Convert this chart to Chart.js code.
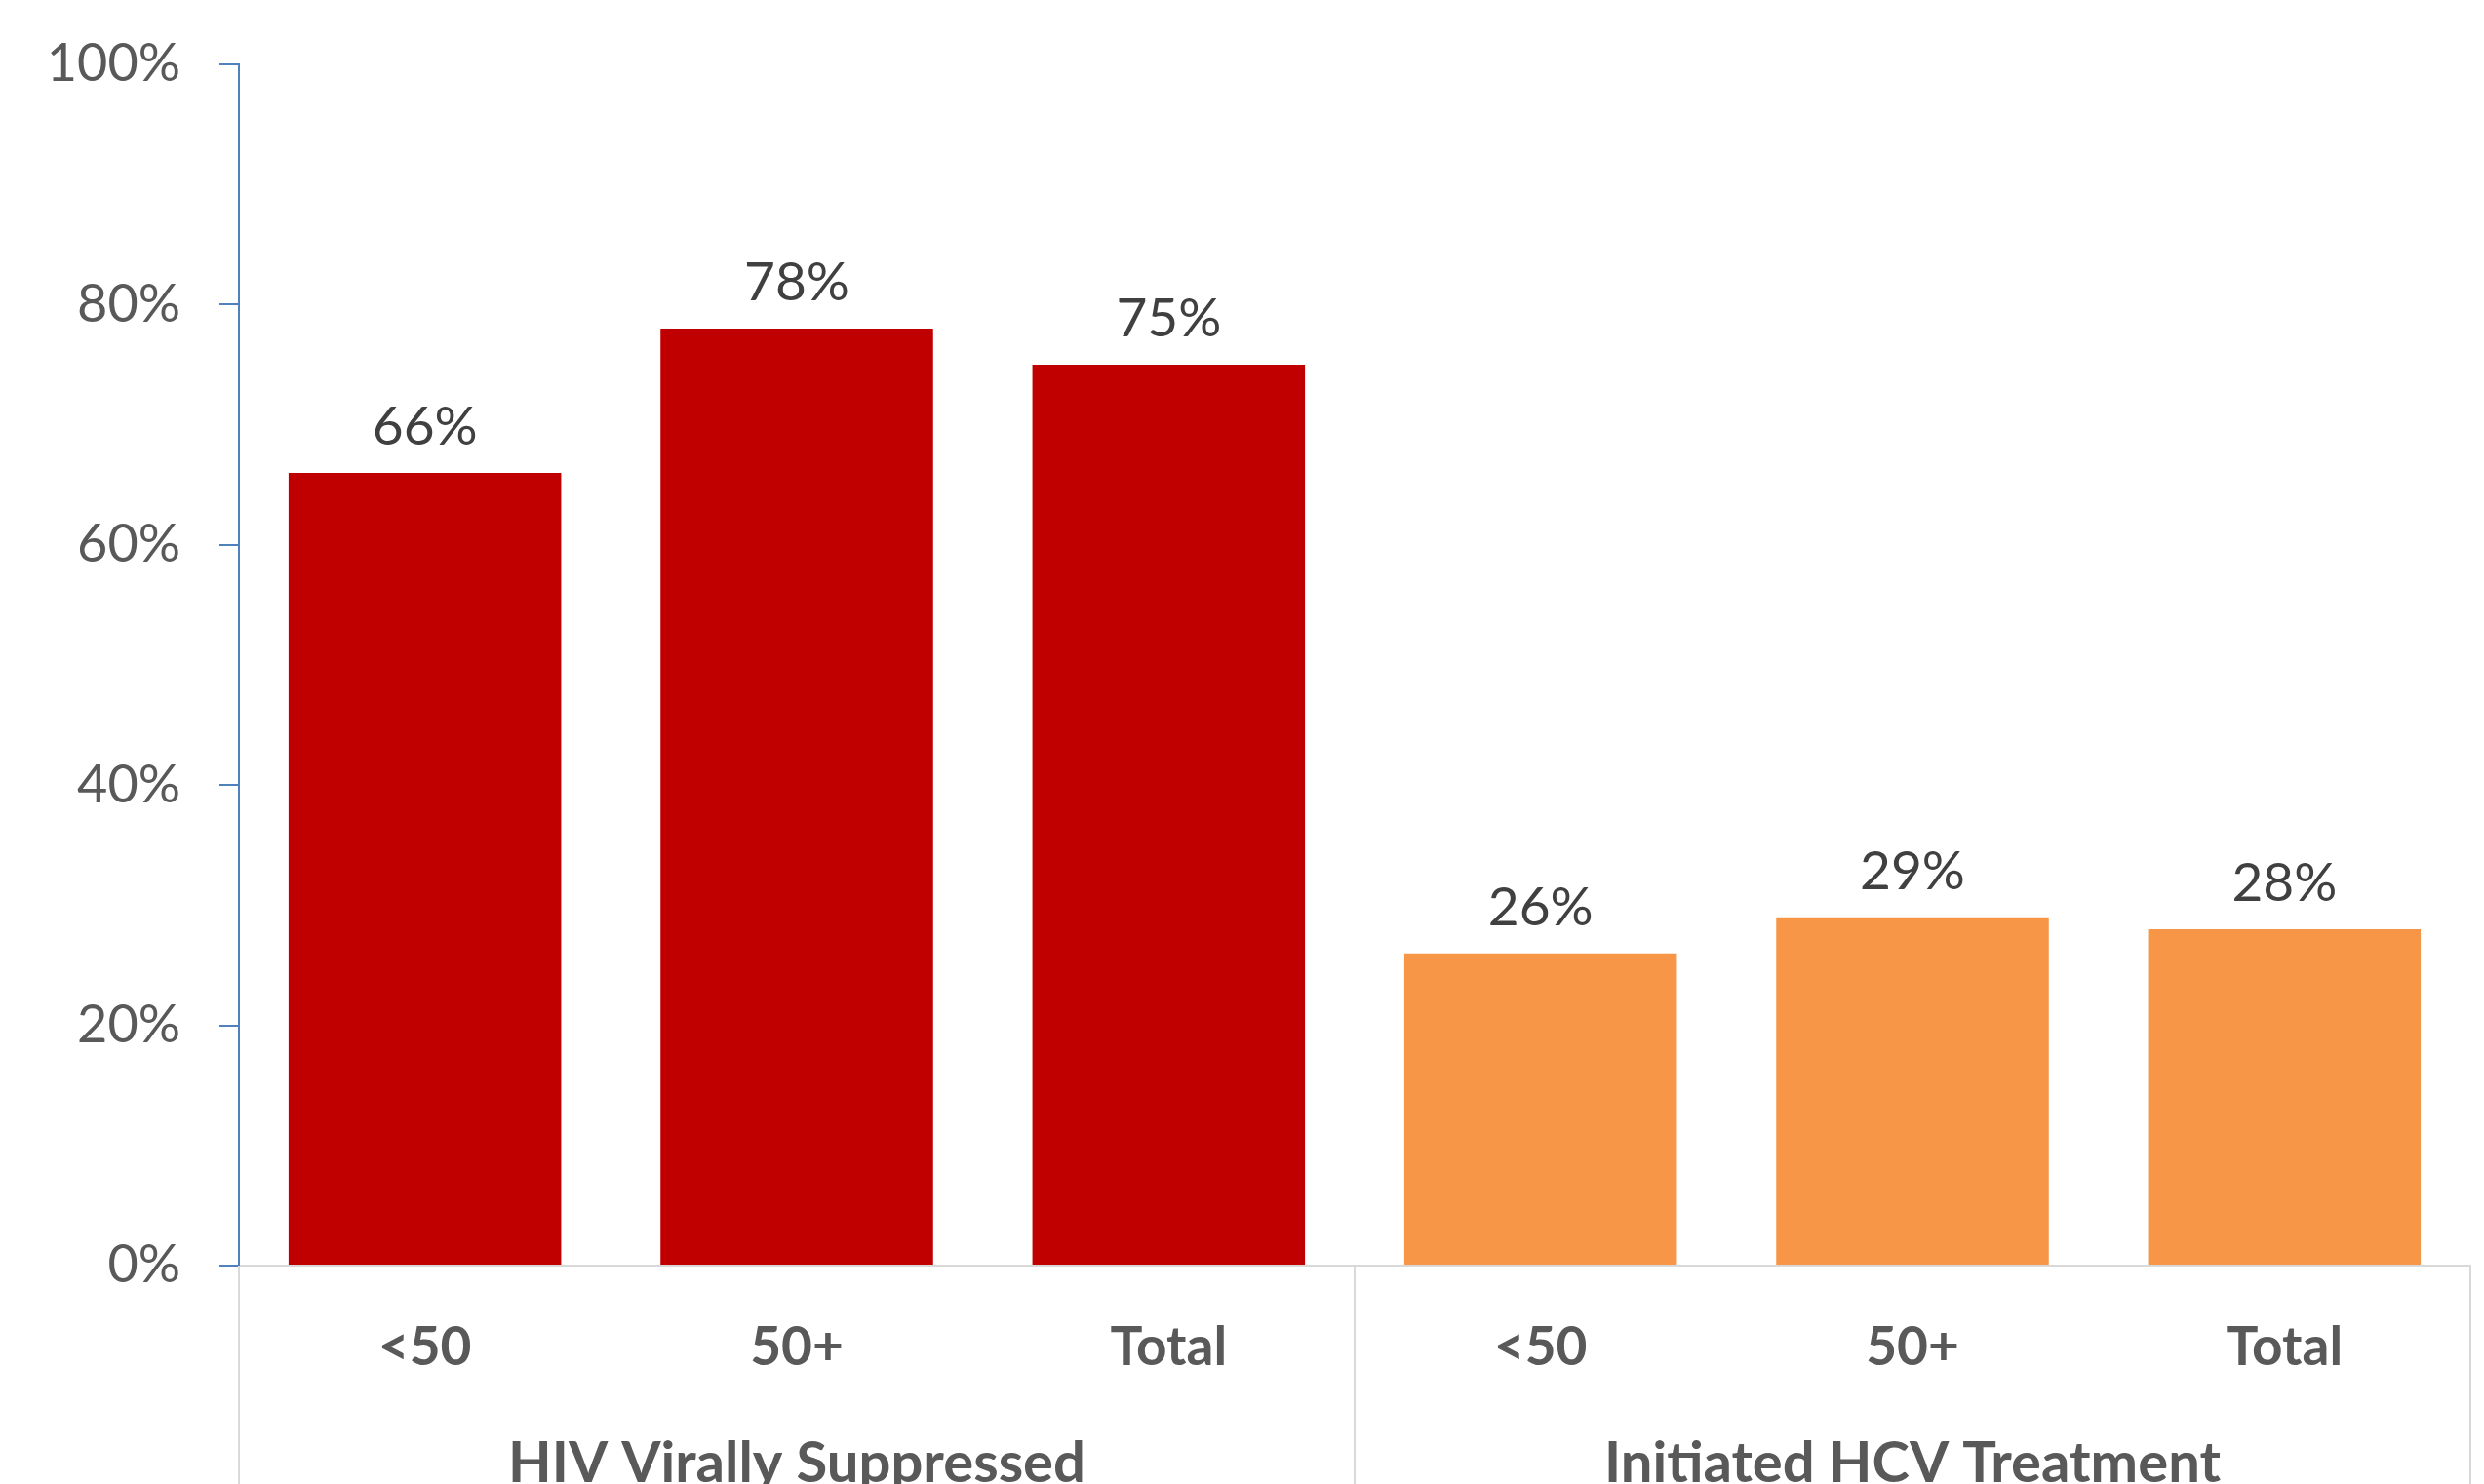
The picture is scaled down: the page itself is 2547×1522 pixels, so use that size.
<!DOCTYPE html>
<html>
<head>
<meta charset="utf-8">
<script src="https://cdn.jsdelivr.net/npm/chart.js@4.4.1/dist/chart.umd.min.js"></script>
<style>
  html, body { margin: 0; padding: 0; background: #ffffff; overflow: hidden; }
  #wrap { width: 2547px; height: 1522px; }
</style>
</head>
<body>
<div id="wrap"><canvas id="chart_hiv" width="2547" height="1522"></canvas></div>
<script>
// values (percent)
const groupNames = ['HIV Virally Suppressed', 'Initiated HCV Treatment'];
const ageLabels = ['<50', '50+', 'Total'];
const hivSuppressed = [66, 78, 75];
const hcvInitiated = [26, 29, 28];
const groupColors = ['#c00000', '#f79646'];

const categories = [...ageLabels, ...ageLabels];
const values = [...hivSuppressed, ...hcvInitiated];
const barColors = [
    ...hivSuppressed.map(() => groupColors[0]),
    ...hcvInitiated.map(() => groupColors[1])
];

const FONT = 'Lato, "Open Sans", sans-serif';

// value labels above bars, category + group labels under the axis
const labelsPlugin = {
    id: 'labelsPlugin',
    afterDraw(chart) {
        const ctx = chart.ctx;
        const xs = chart.scales.x;
        const area = chart.chartArea;
        const bars = chart.getDatasetMeta(0).data;

        ctx.save();
        ctx.textAlign = 'center';
        ctx.textBaseline = 'alphabetic';
        ctx.font = '55px ' + FONT;
        ctx.fillStyle = '#404040';
        bars.forEach((bar, i) => {
            ctx.fillText(values[i] + '%', bar.x, bar.y - 29);
        });

        // separators below the category axis
        const mid = (xs.getPixelForValue(ageLabels.length - 1) + xs.getPixelForValue(ageLabels.length)) / 2;
        ctx.strokeStyle = '#d9d9d9';
        ctx.lineWidth = 2;
        [area.left, mid, area.right].forEach(x => {
            ctx.beginPath();
            ctx.moveTo(x, area.bottom);
            ctx.lineTo(x, chart.height);
            ctx.stroke();
        });

        ctx.fillStyle = '#595959';
        ctx.font = 'bold 55px ' + FONT;
        categories.forEach((c, i) => {
            ctx.fillText(c, xs.getPixelForValue(i), 1400);
        });
        ctx.font = 'bold 58px ' + FONT;
        groupNames.forEach((g, gi) => {
            const first = xs.getPixelForValue(gi * ageLabels.length);
            const last = xs.getPixelForValue(gi * ageLabels.length + ageLabels.length - 1);
            ctx.fillText(g, (first + last) / 2, 1520);
        });
        ctx.restore();
    }
};

new Chart(document.getElementById('chart_hiv'), {
    type: 'bar',
    data: {
        labels: categories,
        datasets: [{
            data: values,
            backgroundColor: barColors,
            borderWidth: 0,
            barPercentage: 0.733,
            categoryPercentage: 1.0
        }]
    },
    options: {
        responsive: false,
        animation: false,
        layout: { padding: { top: 66, right: 14, left: 0, bottom: 0 } },
        plugins: {
            legend: { display: false },
            tooltip: { enabled: false }
        },
        scales: {
            x: {
                grid: { display: false },
                border: { display: true, color: '#d9d9d9', width: 2 },
                ticks: { display: false },
                afterFit: (scale) => { scale.height = 224; }
            },
            y: {
                min: 0,
                max: 100,
                ticks: {
                    stepSize: 20,
                    padding: 40,
                    color: '#595959',
                    font: { family: FONT, size: 54, lineHeight: 0.9 },
                    callback: v => v + '%'
                },
                grid: {
                    drawOnChartArea: false,
                    drawTicks: true,
                    tickLength: 20,
                    color: '#4f81bd',
                    lineWidth: 2
                },
                border: { display: true, color: '#4f81bd', width: 2 },
                afterFit: (scale) => { scale.width = 245; }
            }
        }
    },
    plugins: [labelsPlugin]
});
</script>
</body>
</html>
